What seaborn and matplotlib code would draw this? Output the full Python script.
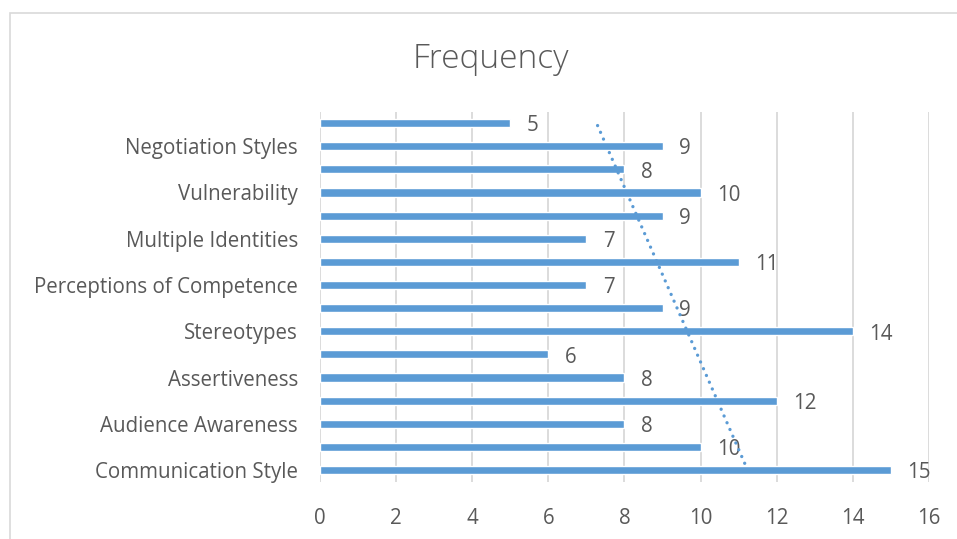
import numpy as np
import pandas as pd
import matplotlib
matplotlib.use("Agg")
import matplotlib.pyplot as plt
from matplotlib.patches import Rectangle
import seaborn as sns

# Frequency per slot, listed from the bottom bar to the top bar
values = [15, 10, 8, 12, 8, 6, 14, 9, 7, 11, 7, 9, 10, 8, 9, 5]
# Axis shows a name on every other slot
tick_labels = [
    "Communication Style", "", "Audience Awareness", "", "Assertiveness", "",
    "Stereotypes", "", "Perceptions of Competence", "", "Multiple Identities", "",
    "Vulnerability", "", "Negotiation Styles", "",
]
x_ticks = [0, 2, 4, 6, 8, 10, 12, 14, 16]
title = "Frequency"

BAR = "#5B9BD5"
TEXT = "#595959"
GRID = "#D9D9D9"

sns.set_theme(style="white")
plt.rcParams["font.family"] = ["Open Sans", "DejaVu Sans"]

slots = np.arange(len(values))
df = pd.DataFrame({"slot": slots, "value": values})

fig = plt.figure(figsize=(9.57, 5.39), dpi=100)
ax = fig.add_axes([0.3344, 0.1065, 0.9707 - 0.3344, 0.7866 - 0.1065 + 0.0065])

# chart frame
fig.patches.append(Rectangle((10 / 957, -0.05), 1.2, 1 - 13 / 539 + 0.05,
                             transform=fig.transFigure, fill=False,
                             edgecolor=GRID, linewidth=1.2, zorder=0))

sns.barplot(data=df, x="value", y="slot", orient="y", native_scale=True,
            width=0.35, color=BAR, saturation=1, ax=ax, zorder=3)
labels = ax.bar_label(ax.containers[0], padding=12, fontsize=14.8, color=TEXT)
for t in labels:
    t.xyann = (12, -2)

# linear trend of frequency across the slots
coef = np.polyfit(slots, values, 1)
trend = np.polyval(coef, slots)
ax.plot(trend, slots, color=BAR, linewidth=2.4, linestyle=(0, (0.01, 2.2)),
        dash_capstyle="round", zorder=4)

ax.set_xlim(0, 16)
ax.set_ylim(-0.5, len(values) - 0.5)
ax.set_xticks(x_ticks)
ax.set_xticklabels([str(t) for t in x_ticks])
ax.set_yticks(slots)
ax.set_yticklabels(tick_labels)
ax.tick_params(axis="x", length=0, pad=19, labelsize=14.8, labelcolor=TEXT)
ax.tick_params(axis="y", length=0, pad=16, labelsize=14.8, labelcolor=TEXT)
ax.set_xlabel("")
ax.set_ylabel("")
ax.grid(axis="x", color=GRID, linewidth=1.3)
ax.set_axisbelow(True)
for s in ax.spines.values():
    s.set_visible(False)

fig.text(491 / 957, 1 - 59 / 539, title, ha="center", va="center",
         fontsize=24, color=TEXT, fontweight="light")

fig.savefig("out.png", dpi=100, facecolor="white")
